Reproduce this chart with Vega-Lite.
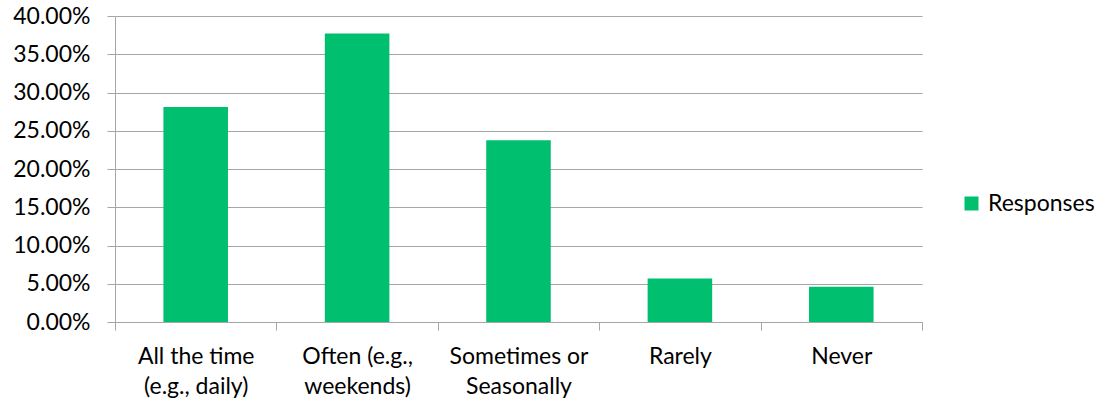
{
  "$schema": "https://vega.github.io/schema/vega-lite/v6.json",
  "autosize": {"type": "none"},
  "width": 807,
  "height": 306,
  "padding": {"left": 115, "top": 16, "right": 184, "bottom": 82},
  "background": "white",
  "config": {"view": {"stroke": null}, "font": "Lato"},
  "data": {"values": [
    {"category": "All the time (e.g., daily)", "share": 0.281},
    {"category": "Often (e.g., weekends)", "share": 0.377},
    {"category": "Sometimes or Seasonally", "share": 0.2375},
    {"category": "Rarely", "share": 0.057},
    {"category": "Never", "share": 0.0462}
  ]},
  "mark": {"type": "bar", "width": {"band": 0.4}},
  "encoding": {
    "x": {
      "field": "category", "type": "nominal", "sort": null,
      "scale": {"paddingInner": 0, "paddingOuter": 0},
      "axis": {
        "title": null, "labelAngle": 0, "tickBand": "extent",
        "domainColor": "#a6a6a6", "tickColor": "#a6a6a6", "tickSize": 8,
        "labelFontSize": 23, "labelColor": "#000000", "labelPadding": 15,
        "labelLineHeight": 30, "labelFont": "Lato",
        "labelExpr": "datum.value == 'All the time (e.g., daily)' ? ['All the time', '(e.g., daily)'] : datum.value == 'Often (e.g., weekends)' ? ['Often (e.g.,', 'weekends)'] : datum.value == 'Sometimes or Seasonally' ? ['Sometimes or', 'Seasonally'] : datum.value"
      }
    },
    "y": {
      "field": "share", "type": "quantitative",
      "scale": {"domain": [0, 0.4]},
      "axis": {
        "title": null, "format": ".2%", "values": [0, 0.05, 0.1, 0.15, 0.2, 0.25, 0.3, 0.35, 0.4],
        "gridColor": "#a6a6a6", "domainColor": "#a6a6a6", "tickColor": "#a6a6a6", "tickSize": 8,
        "labelFontSize": 23, "labelColor": "#000000", "labelPadding": 17, "labelFont": "Lato"
      }
    },
    "color": {
      "datum": "Responses",
      "scale": {"range": ["#00BF6F"]},
      "legend": {
        "title": null, "orient": "none", "legendX": 845, "legendY": 176,
        "symbolType": "square", "symbolSize": 196, "symbolStrokeWidth": 0,
        "labelFontSize": 23, "labelColor": "#000000", "labelFont": "Lato", "labelOffset": 5
      }
    }
  }
}
